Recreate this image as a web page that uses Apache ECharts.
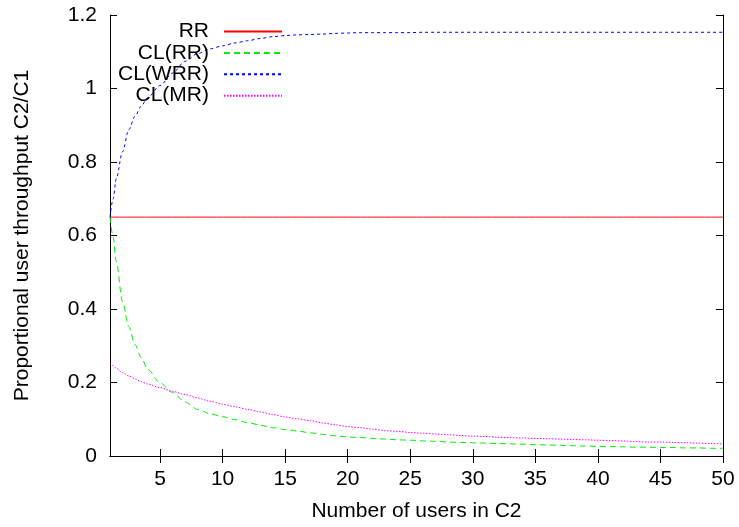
<!DOCTYPE html>
<html>
<head>
<meta charset="utf-8">
<script src="https://cdn.jsdelivr.net/npm/echarts@6/dist/echarts.min.js"></script>
<style>
  html, body { margin: 0; padding: 0; background: #fff; }
  #chart { width: 739px; height: 527px; }
</style>
</head>
<body>
<div id="chart"></div>
<script>
// number of users in C2 (finer steps where the curves are steep)
var users = [1, 1.25, 1.5, 2, 2.5, 3, 3.5, 4,
  5, 6, 7, 8, 9, 10, 11, 12, 13, 14,
  15, 16, 17, 18, 19, 20, 21, 22, 23, 24,
  25, 26, 27, 28, 29, 30, 31, 32, 33, 34,
  35, 36, 37, 38, 39, 40, 41, 42, 43, 44,
  45, 46, 47, 48, 49, 50]

var rr = users.map(function () { return 0.65 })

var clRR = [0.65, 0.595, 0.53, 0.42, 0.352, 0.303, 0.268, 0.236,
  0.199, 0.173, 0.147, 0.127, 0.115, 0.107, 0.099, 0.091, 0.084, 0.077,
  0.072, 0.068, 0.063, 0.059, 0.055, 0.052, 0.050, 0.048, 0.046, 0.044,
  0.043, 0.041, 0.040, 0.038, 0.037, 0.036, 0.035, 0.034, 0.033, 0.032,
  0.031, 0.030, 0.029, 0.028, 0.027, 0.026, 0.026, 0.025, 0.024, 0.024,
  0.023, 0.023, 0.022, 0.022, 0.021, 0.021]

var clWRR = [0.65, 0.70, 0.755, 0.828, 0.888, 0.925, 0.952, 0.975,
  1.008, 1.042, 1.074, 1.095, 1.108, 1.116, 1.124, 1.130, 1.136, 1.141,
  1.144, 1.146, 1.147, 1.148, 1.150, 1.151, 1.152, 1.152, 1.152, 1.152,
  1.152, 1.153, 1.153, 1.153, 1.153, 1.153, 1.153, 1.153, 1.153, 1.153,
  1.153, 1.153, 1.153, 1.153, 1.153, 1.153, 1.153, 1.153, 1.153, 1.153,
  1.153, 1.153, 1.153, 1.153, 1.153, 1.153]

var clMR = [0.252, 0.246, 0.239, 0.227, 0.218, 0.210, 0.202, 0.196,
  0.186, 0.176, 0.167, 0.158, 0.149, 0.141, 0.134, 0.127, 0.120, 0.113,
  0.106, 0.101, 0.096, 0.090, 0.085, 0.080, 0.077, 0.073, 0.069, 0.067,
  0.064, 0.062, 0.060, 0.058, 0.056, 0.054, 0.053, 0.051, 0.050, 0.049,
  0.048, 0.047, 0.046, 0.045, 0.044, 0.043, 0.042, 0.041, 0.039, 0.038,
  0.038, 0.037, 0.036, 0.035, 0.034, 0.033]

var xTicks = [5, 10, 15, 20, 25, 30, 35, 40, 45, 50]

var font = 'Liberation Sans'

function pairs (ys) {
  return users.map(function (x, i) { return [x, ys[i]] })
}

function lineSeries (name, ys, color, type) {
  return {
    name: name,
    type: 'line',
    data: pairs(ys),
    symbol: 'none',
    smooth: 0.3,
    smoothMonotone: 'x',
    lineStyle: { color: color, width: 1, type: type },
    itemStyle: { color: color },
    emphasis: { disabled: true }
  }
}

var chart = echarts.init(document.getElementById('chart'))

var axisLineStyle = { show: true, lineStyle: { color: '#000', width: 1 } }

chart.setOption({
  animation: false,
  grid: { left: 110, right: 16, top: 15, bottom: 70 },
  legend: {
    orient: 'vertical',
    align: 'right',
    right: 456,
    top: 21,
    padding: 0,
    itemWidth: 58,
    itemHeight: 14,
    itemGap: 0.4,
    itemStyle: { color: 'rgba(0,0,0,0)', borderWidth: 0, opacity: 0 },
    textStyle: {
      fontFamily: font,
      fontSize: 21,
      color: '#000',
      lineHeight: 21,
      padding: [0, 10, 0, 0]
    },
    data: ['RR', 'CL(RR)', 'CL(WRR)', 'CL(MR)']
  },
  xAxis: [{
    type: 'value',
    min: 1,
    max: 50,
    name: 'Number of users in C2',
    nameLocation: 'middle',
    nameGap: 45,
    nameTextStyle: { fontFamily: font, fontSize: 21, color: '#000' },
    axisLine: axisLineStyle,
    axisTick: { inside: true, length: 7, customValues: xTicks, lineStyle: { color: '#000' } },
    axisLabel: { customValues: xTicks, fontFamily: font, fontSize: 21, color: '#000', margin: 13 },
    splitLine: { show: false }
  }, {
    type: 'value',
    position: 'top',
    min: 1,
    max: 50,
    axisLine: axisLineStyle,
    axisTick: { inside: true, length: 7, customValues: xTicks, lineStyle: { color: '#000' } },
    axisLabel: { show: false },
    splitLine: { show: false }
  }],
  yAxis: [{
    type: 'value',
    min: 0,
    max: 1.2,
    interval: 0.2,
    name: 'Proportional user throughput C2/C1',
    nameLocation: 'middle',
    nameGap: 77,
    nameTextStyle: { fontFamily: font, fontSize: 21, color: '#000' },
    axisLine: axisLineStyle,
    axisTick: { inside: true, length: 7, lineStyle: { color: '#000' } },
    axisLabel: { fontFamily: font, fontSize: 21, color: '#000', margin: 13 },
    splitLine: { show: false }
  }, {
    type: 'value',
    position: 'right',
    min: 0,
    max: 1.2,
    interval: 0.2,
    axisLine: axisLineStyle,
    axisTick: { inside: true, length: 7, lineStyle: { color: '#000' } },
    axisLabel: { show: false },
    splitLine: { show: false }
  }],
  series: [
    lineSeries('RR', rr, '#ff0000', 'solid'),
    lineSeries('CL(RR)', clRR, '#00ee00', [6, 4]),
    lineSeries('CL(WRR)', clWRR, '#0000ff', [3, 3]),
    lineSeries('CL(MR)', clMR, '#ff00ff', [1.5, 1.5])
  ]
})
</script>
</body>
</html>
